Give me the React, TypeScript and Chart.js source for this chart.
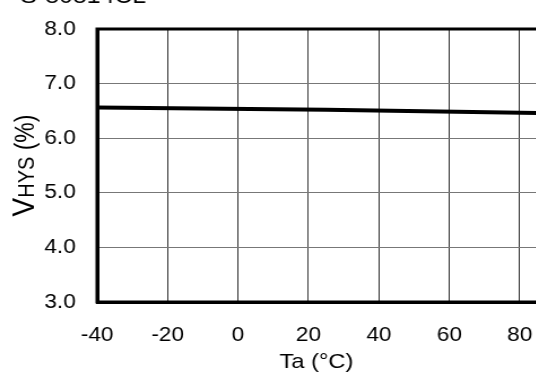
import React, { useEffect, useRef } from "react";
import { Chart, registerables } from "chart.js";

Chart.register(...registerables);

const chartTitle = "S-80814CL";
const temperatures = [-40, 25, 85];
const vhysValues = [6.56, 6.52, 6.46];
const xMin = -40;
const xMax = 100;
const xStep = 20;
const yMin = 3;
const yMax = 8;
const yStep = 1;
const xAxisTitle = "Ta (°C)";
const yTitleParts = [
  { text: "V", size: 28 },
  { text: "HYS", size: 20 },
  { text: " (%)", size: 23 },
];

const FONT = "'Liberation Sans', Arial, Helvetica, sans-serif";
const SX = 1.13;

const frameAndTitles = {
  id: "frameAndTitles",
  afterDatasetsDraw(chart: any) {
    const { ctx, chartArea } = chart;
    ctx.save();
    ctx.strokeStyle = "#000";
    ctx.lineWidth = 3;
    ctx.strokeRect(chartArea.left, chartArea.top, chartArea.right - chartArea.left, chartArea.bottom - chartArea.top);
    ctx.restore();
  },
  afterDraw(chart: any) {
    const { ctx, chartArea } = chart;
    // y-axis title (mixed sizes)
    ctx.save();
    const cy = (chartArea.top + chartArea.bottom) / 2;
    ctx.translate(chartArea.left - 56, cy);
    ctx.rotate(-Math.PI / 2);
    ctx.fillStyle = "#000";
    ctx.textBaseline = "alphabetic";
    ctx.textAlign = "left";
    let total = 0;
    const widths: number[] = [];
    for (const p of yTitleParts) {
      ctx.font = `${p.size}px ${FONT}`;
      const w = ctx.measureText(p.text).width;
      widths.push(w);
      total += w;
    }
    let x = -total / 2;
    yTitleParts.forEach((p, i) => {
      ctx.font = `${p.size}px ${FONT}`;
      ctx.fillText(p.text, x, 0);
      x += widths[i];
    });
    ctx.restore();
    // x-axis title
    ctx.save();
    ctx.fillStyle = "#000";
    ctx.font = `21px ${FONT}`;
    ctx.textAlign = "center";
    ctx.textBaseline = "middle";
    ctx.fillText(xAxisTitle, chartArea.left + 194, chartArea.bottom + 60);
    ctx.restore();
  },
};

export default function App() {
  const canvasRef = useRef<HTMLCanvasElement | null>(null);

  useEffect(() => {
    if (!canvasRef.current) return;
    const chart = new Chart(canvasRef.current, {
      type: "line",
      data: {
        datasets: [
          {
            data: temperatures.map((t, i) => ({ x: t, y: vhysValues[i] })),
            borderColor: "#000",
            borderWidth: 4,
            pointRadius: 0,
            tension: 0,
            fill: false,
          },
        ],
      },
      options: {
        responsive: false,
        animation: false,
        devicePixelRatio: 1,
        layout: { padding: { top: 4, left: 18, right: 34, bottom: 0 } },
        plugins: {
          legend: { display: false },
          tooltip: { enabled: false },
          title: {
            display: true,
            text: chartTitle,
            align: "start",
            color: "#000",
            font: { family: FONT, size: 22, weight: "normal" },
            padding: { top: 0, bottom: 18.6 },
          },
        },
        scales: {
          x: {
            type: "linear",
            min: xMin,
            max: xMax,
            afterFit: (s: any) => {
              s.height = 74;
            },
            ticks: {
              stepSize: xStep,
              color: "#000",
              font: { family: FONT, size: 20 },
              padding: 21,
              maxRotation: 0,
              autoSkip: false,
            },
            grid: { color: "#333", lineWidth: 1, drawTicks: false },
            border: { display: true, color: "#000", width: 3 },
            title: { display: false, text: xAxisTitle },
          },
          y: {
            type: "linear",
            min: yMin,
            max: yMax,
            afterFit: (s: any) => {
              s.width = 68;
            },
            ticks: {
              stepSize: yStep,
              color: "#000",
              font: { family: FONT, size: 20 },
              padding: 19,
              callback: (v: any) => Number(v).toFixed(1),
            },
            grid: { color: "#777", lineWidth: 1, drawTicks: false },
            border: { display: true, color: "#000", width: 3 },
          },
        },
      },
      plugins: [frameAndTitles],
    } as any);
    return () => chart.destroy();
  }, []);

  return (
    <div
      style={{
        position: "fixed",
        left: 0,
        top: 0,
        width: 536,
        height: 376,
        overflow: "hidden",
        background: "#fff",
      }}
    >
      <div
        style={{
          position: "absolute",
          left: 0,
          top: -20,
          width: 560,
          height: 396,
          transform: `scaleX(${SX})`,
          transformOrigin: "0 0",
        }}
      >
        <canvas ref={canvasRef} width={560} height={396} />
      </div>
    </div>
  );
}
